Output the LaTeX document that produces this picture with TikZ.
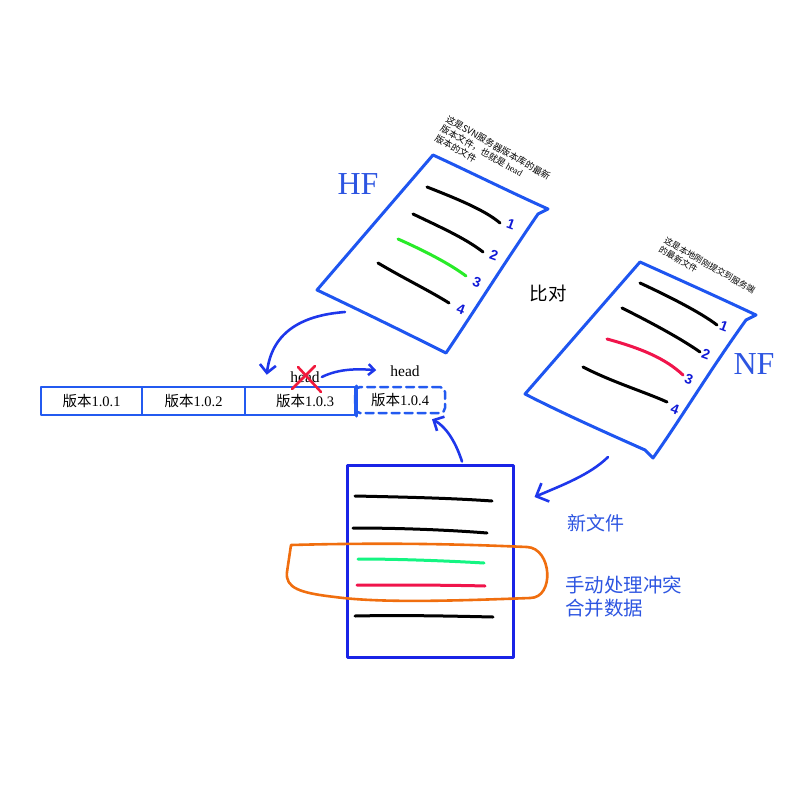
\documentclass[tikz,border=0pt]{standalone}
\usepackage{fontspec}
\setmainfont{Liberation Serif}
\newfontfamily\cjk{Noto Sans CJK SC}
\newfontfamily\hand{Liberation Sans}
\usetikzlibrary{arrows.meta}
\definecolor{sheetblue}{RGB}{30,85,240}
\definecolor{docblue}{RGB}{25,35,230}
\definecolor{arrowblue}{RGB}{30,55,235}
\definecolor{barblue}{RGB}{35,90,240}
\definecolor{numblue}{RGB}{15,25,215}
\definecolor{textblue}{RGB}{45,85,225}
\definecolor{hfgreen}{RGB}{40,235,40}
\definecolor{dgreen}{RGB}{20,245,130}
\definecolor{lred}{RGB}{240,20,75}
\definecolor{xred}{RGB}{240,25,60}
\definecolor{lorange}{RGB}{240,110,15}
\begin{document}
\begin{tikzpicture}[x=1pt,y=-1pt,line cap=round,line join=round,
  sheet/.style={draw=sheetblue,line width=3pt},
  ink/.style={line width=3pt},
  num/.style={text=numblue,font=\hand\bfseries\fontsize{14}{14}\selectfont,inner sep=0pt,rotate=-20},
  arr/.style={draw=arrowblue,line width=2.6pt,-{Straight Barb[length=8pt,width=16pt]}},
  cell/.style={draw=barblue,line width=2.5pt,minimum height=28pt,inner sep=0pt,font=\fontsize{14.5}{14.5}\selectfont},
  note/.style={align=left,inner sep=0pt,anchor=north west,rotate=-30},
  bigl/.style={text=textblue,font=\fontsize{32}{32}\selectfont,inner sep=0pt},
  cjkl/.style={font=\cjk\fontsize{19}{19}\selectfont,inner sep=0pt},
  ]
\useasboundingbox (0,0) rectangle (800,800);

% ---------- HF sheet ----------
\coordinate (hfA) at (433,155);
\coordinate (hfB) at (548,209);
\coordinate (hfC) at (446,353);
\coordinate (hfD) at (317,290);
\draw[sheet] (hfA) .. controls (470,172) and (510,192) .. (hfB) -- (538,214)
  .. controls (505,262) and (475,310) .. (hfC) .. controls (420,340) and (380,320) .. (hfD) -- cycle;
\draw[ink] (427,187) .. controls (455,198) and (485,210) .. (500,223);
\draw[ink] (413,214) .. controls (440,227) and (465,238) .. (483,252);
\draw[ink,draw=hfgreen] (398,239) .. controls (425,251) and (450,264) .. (466,276);
\draw[ink] (378,263) .. controls (405,279) and (430,291) .. (449,303);
\node[num] (h1) at (511,224) {1};
\node[num] (h2) at (494,255) {2};
\node[num] (h3) at (477,282) {3};
\node[num] (h4) at (461,309) {4};
\node[bigl] (hf) at (358,184) {HF};
\node[note,font=\cjk\fontsize{9.2}{11}\selectfont] (hfnote) at (449,114)
  {这是SVN服务器版本库的最新\\版本文件，也就是 {\rmfamily head}\\版本的文件};

% ---------- NF sheet ----------
\coordinate (nfA) at (640,262);
\coordinate (nfB) at (756,315);
\coordinate (nfC) at (653,458);
\coordinate (nfD) at (525,394);
\draw[sheet] (nfA) .. controls (680,280) and (720,298) .. (nfB) -- (746,320)
  .. controls (710,370) and (680,420) .. (nfC) -- (645,450) .. controls (600,430) and (560,412) .. (nfD) -- cycle;
\draw[ink] (640,283) .. controls (668,296) and (700,312) .. (717,325);
\draw[ink] (622,308) .. controls (650,322) and (680,338) .. (700,352);
\draw[ink,draw=lred] (607,339) .. controls (640,348) and (665,358) .. (683,375);
\draw[ink] (583,367) .. controls (612,382) and (645,392) .. (667,402);
\node[num] (n1) at (724,326) {1};
\node[num] (n2) at (706,354) {2};
\node[num] (n3) at (689,379) {3};
\node[num] (n4) at (675,409) {4};
\node[bigl] (nf) at (754,364) {NF};
\node[note,font=\cjk\fontsize{8.6}{10.5}\selectfont] (nfnote) at (667,236)
  {这是本地刚刚提交到服务端\\的最新文件};

\node[cjkl,font=\cjk\fontsize{18.5}{18.5}\selectfont] (cmp) at (548,293) {比对};

% ---------- version bar ----------
\node[cell,minimum width=101pt] (v1) at (91.5,401) {{\cjk 版本}1.0.1};
\node[cell,minimum width=103pt] (v2) at (193.5,401) {{\cjk 版本}1.0.2};
\node[cell,minimum width=110pt] (v3) at (300,401) {\hspace{10pt}{\cjk 版本}1.0.3};
\node[cell,minimum width=90pt,minimum height=26pt,dashed,dash pattern=on 8pt off 5pt,rounded corners=5pt] (v4) at (400,400) {{\cjk 版本}1.0.4};
\draw[barblue,line width=2.5pt] (v3.north east) -- (v3.south east);

\node[font=\fontsize{15.5}{15.5}\selectfont,inner sep=2pt] (oldhead) at (305,377) {head};
\draw[xred,line width=2.6pt] (292,389) -- (315,366);
\draw[xred,line width=2.6pt] (298,367) -- (321,392);
\node[font=\fontsize{15.5}{15.5}\selectfont,inner sep=2pt] (newhead) at (405,371) {head};
\draw[draw=arrowblue,line width=2.5pt,-{Straight Barb[length=6pt,width=11pt]},shorten >=12pt]
  (oldhead.east) .. controls (340,368) and (360,369) .. (newhead.west);

% ---------- new document ----------
\node[draw=docblue,line width=3pt,minimum width=166pt,minimum height=192pt,inner sep=0pt] (newdoc) at (430,561) {};
\draw[ink] (355,496) .. controls (400,497) and (450,498) .. (492,501);
\draw[ink] (353,528) .. controls (400,528) and (450,530) .. (487,533);
\draw[ink,draw=dgreen] (358,559) .. controls (400,559) and (450,561) .. (484,563);
\draw[ink,draw=lred] (357,585) .. controls (400,585) and (450,585) .. (485,586);
\draw[ink] (355,616) .. controls (400,615) and (450,616) .. (493,617);
\draw[lorange,line width=2.6pt] (291,545) .. controls (400,542) and (480,545) .. (527,547)
  .. controls (552,548) and (555,598) .. (530,598) .. controls (450,601) and (380,603) .. (335,597)
  .. controls (300,593) and (285,588) .. (287,572) -- cycle;

\node[cjkl,text=textblue] (newlbl) at (596,523) {新文件};
\node[cjkl,text=textblue,align=left,anchor=north west,font=\cjk\fontsize{19.5}{23}\selectfont] (merge) at (565,576) {手动处理冲突\\合并数据};

% ---------- arrows ----------
\coordinate (hfout) at (345,312);
\draw[arr] (hfout) .. controls (305,315) and (272,330) .. ([xshift=23pt,yshift=11pt]v3.north west);
\coordinate (nfout) at (608,457);
\draw[arr,-{Straight Barb[length=10pt,width=20pt]}] (nfout) .. controls (590,475) and (560,486) .. ([xshift=20pt,yshift=64pt]newdoc.east);
\draw[arr] ([xshift=32pt,yshift=2pt]newdoc.north) .. controls (455,440) and (445,426) .. ([xshift=32pt,yshift=-5pt]v4.south);
\end{tikzpicture}
\end{document}
